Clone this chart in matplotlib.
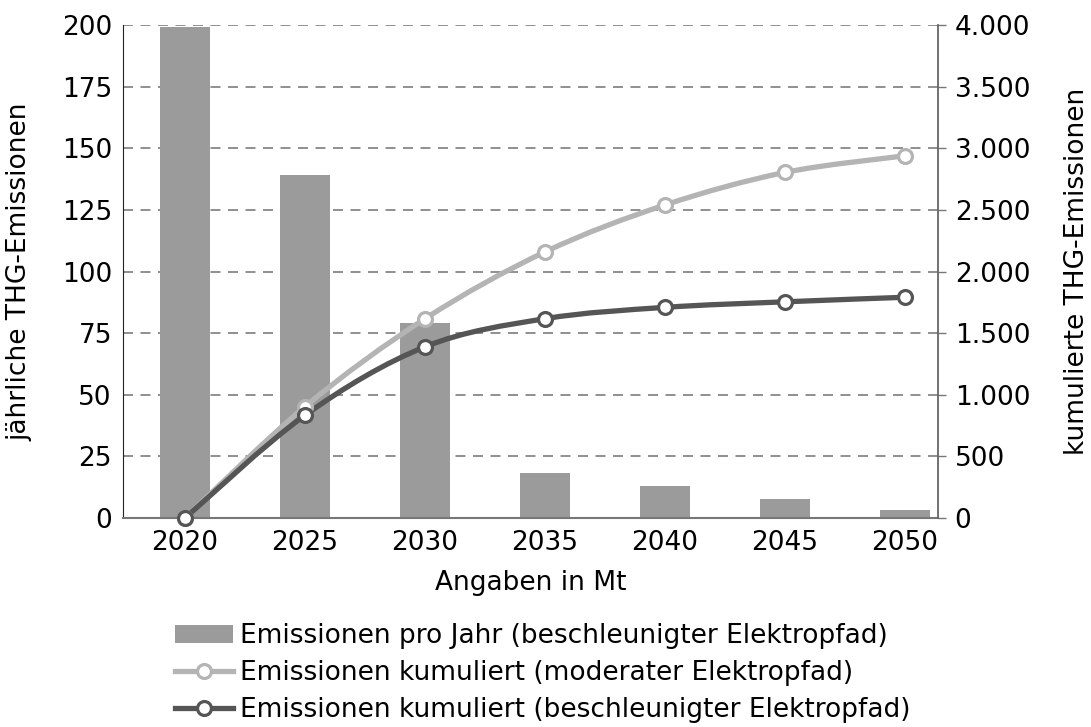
import matplotlib
matplotlib.use("Agg")
import matplotlib.pyplot as plt
import numpy as np
from matplotlib.path import Path
from matplotlib.patches import PathPatch, Patch
from matplotlib.lines import Line2D
from matplotlib.ticker import FuncFormatter

# Werte in Mt
jahre = [2020, 2025, 2030, 2035, 2040, 2045, 2050]
emissionen_pro_jahr = [199.3, 139.2, 79.0, 18.1, 12.9, 7.7, 3.4]
kumuliert_moderat = [0, 904, 1617, 2159, 2540, 2804, 2939]
kumuliert_beschleunigt = [0, 834, 1389, 1617, 1709, 1754, 1791]

BAR_COL = '#9b9b9b'
HELL = '#b4b4b4'
DUNKEL = '#555555'
FS = 19

plt.rcParams['font.family'] = ['DejaVu Sans']


def smooth_path(xs, ys):
    # Catmull-Rom -> kubische Bezier-Segmente durch die Stuetzpunkte
    xs = np.asarray(xs, float); ys = np.asarray(ys, float)
    n = len(xs)
    verts = [(xs[0], ys[0])]
    codes = [Path.MOVETO]
    for i in range(n - 1):
        p0 = np.array([xs[max(i - 1, 0)], ys[max(i - 1, 0)]])
        p1 = np.array([xs[i], ys[i]])
        p2 = np.array([xs[i + 1], ys[i + 1]])
        p3 = np.array([xs[min(i + 2, n - 1)], ys[min(i + 2, n - 1)]])
        c1 = p1 + (p2 - p0) / 6.0
        c2 = p2 - (p3 - p1) / 6.0
        verts += [tuple(c1), tuple(c2), tuple(p2)]
        codes += [Path.CURVE4] * 3
    return Path(verts, codes)


fig = plt.figure(figsize=(10.91, 7.27), dpi=100)
ax = fig.add_axes([123 / 1091, 1 - 518 / 727, (938 - 123) / 1091, (518 - 25) / 727])
ax2 = ax.twinx()

x = np.arange(len(jahre))
ax.bar(x, emissionen_pro_jahr, width=0.42, color=BAR_COL, zorder=2)
ax.set_xlim(-0.517, 6.275)
ax.set_ylim(0, 200)
ax.set_yticks(range(0, 201, 25))
ax.set_xticks(x)
ax.set_xticklabels([str(j) for j in jahre])
ax.yaxis.grid(True, color='#7d7d7d', linestyle=(0, (6, 4.5)), linewidth=1.2)
ax.set_axisbelow(True)

ax2.set_ylim(0, 4000)
ax2.set_yticks(range(0, 4001, 500))
ax2.yaxis.set_major_formatter(FuncFormatter(lambda v, p: f'{int(v):,}'.replace(',', '.')))

for ys, col in ((kumuliert_moderat, HELL), (kumuliert_beschleunigt, DUNKEL)):
    ax2.add_patch(PathPatch(smooth_path(x, ys), facecolor='none', edgecolor=col,
                            lw=3.8, capstyle='round', zorder=3))
    ax2.plot(x, ys, linestyle='none', marker='o', ms=10, mfc='white', mec=col,
             mew=2.3, zorder=4, clip_on=False)

for a in (ax, ax2):
    a.spines['top'].set_visible(False)
    a.tick_params(labelsize=FS, length=5, width=1, color='#777777')
ax.spines['left'].set_color('#222222')
ax.spines['bottom'].set_color('#777777')
ax.spines['bottom'].set_linewidth(1.5)
ax.spines['right'].set_visible(False)
ax2.spines['left'].set_visible(False)
ax2.spines['bottom'].set_visible(False)
ax2.spines['right'].set_color('#666666')
ax2.spines['right'].set_linewidth(1.3)
ax.tick_params(axis='x', length=0, pad=9)
ax.tick_params(axis='y', length=0, pad=8)
ax2.tick_params(axis='y', length=6, pad=6, direction='out')

ax.set_ylabel('jährliche THG-Emissionen', fontsize=FS, labelpad=21)
ax2.set_ylabel('kumulierte THG-Emissionen', fontsize=FS, labelpad=24)
ax.set_xlabel('Angaben in Mt', fontsize=FS, labelpad=10)

handles = [
    Patch(facecolor=BAR_COL, edgecolor='none'),
    Line2D([], [], color=HELL, lw=3.8, marker='o', ms=10, mfc='white', mec=HELL, mew=2.3),
    Line2D([], [], color=DUNKEL, lw=3.8, marker='o', ms=10, mfc='white', mec=DUNKEL, mew=2.3),
]
labels = [
    'Emissionen pro Jahr (beschleunigter Elektropfad)',
    'Emissionen kumuliert (moderater Elektropfad)',
    'Emissionen kumuliert (beschleunigter Elektropfad)',
]
fig.legend(handles, labels, loc='upper left', bbox_to_anchor=(162 / 1091, 1 - 610 / 727),
           frameon=False, fontsize=FS, handlelength=2.2, handleheight=0.7,
           handletextpad=0.25, labelspacing=0.42, borderpad=0)

fig.savefig('out.png', dpi=100)
